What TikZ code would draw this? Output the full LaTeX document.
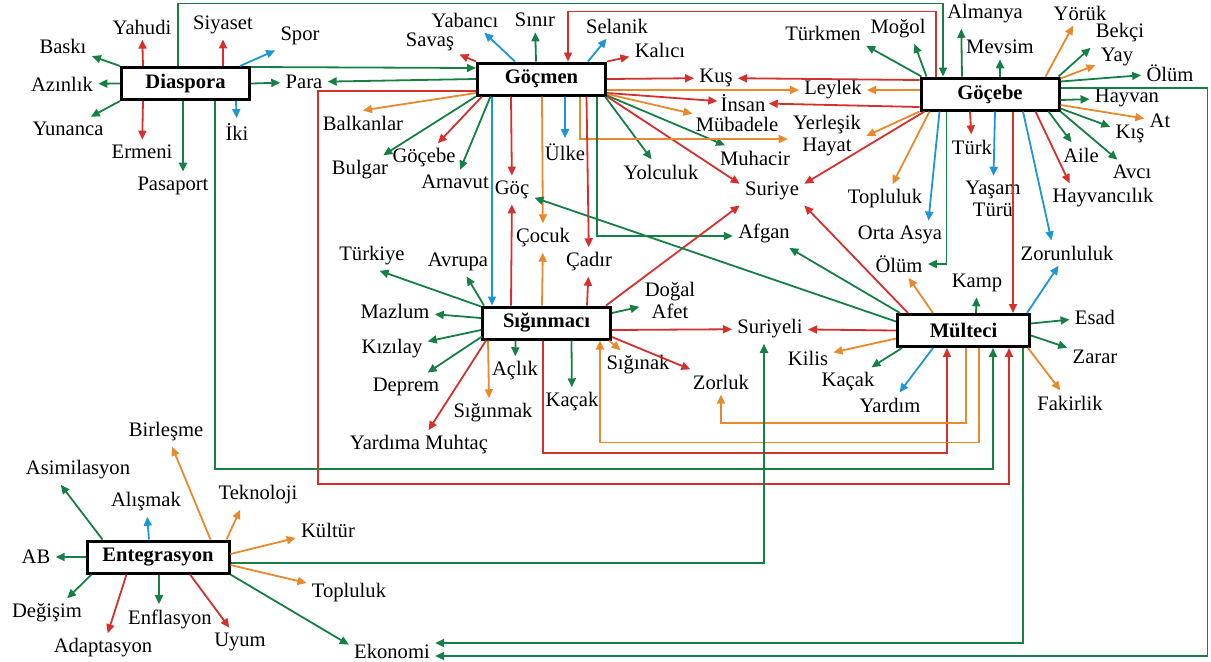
\documentclass[tikz,border=0pt]{standalone}
\usepackage{fontspec}
\setmainfont{Liberation Serif}
\usetikzlibrary{arrows.meta,calc}

\definecolor{yesil}{RGB}{22,128,68}
\definecolor{kirmizi}{RGB}{214,48,44}
\definecolor{turuncu}{RGB}{233,137,43}
\definecolor{mavi}{RGB}{28,150,214}

\begin{document}
\begin{tikzpicture}[x=0.5pt, y=-0.5pt, font=\fontsize{10.3}{11}\selectfont,
                    kutu/.style={draw=black, line width=1.5pt, fill=white, inner sep=1pt,
                                 minimum width=64pt, minimum height=16pt, font=\fontsize{10.3}{11}\selectfont\bfseries},
                    etiket/.style={inner sep=2.5pt, align=center},
                    ok/.style={line width=0.9pt, -{Triangle[length=4.5pt,width=4pt]}},
                    okY/.style={ok, yesil},
                    okK/.style={ok, kirmizi},
                    okT/.style={ok, turuncu},
                    okM/.style={ok, mavi}]
  \useasboundingbox (0,0) rectangle (1211,661);
  % main concepts
  \node[kutu] (diaspora) at (185.5,83.5) {Diaspora};
  \node[kutu] (gocmen) at (541.5,79) {Göçmen};
  \node[kutu, minimum width=69pt] (gocebe) at (990,94) {Göçebe};
  \node[kutu] (siginmaci) at (546.5,323) {Sığınmacı};
  \node[kutu, minimum width=66pt] (multeci) at (963.5,330.5) {Mülteci};
  \node[kutu, minimum width=71pt] (entegrasyon) at (158,557) {Entegrasyon};
  % words
  \node[etiket] (yahudi) at (142,27) {Yahudi};
  \node[etiket] (siyaset) at (223,25) {Siyaset};
  \node[etiket] (spor) at (300,36) {Spor};
  \node[etiket] (baski) at (63,46) {Baskı};
  \node[etiket] (azinlik) at (62,84) {Azınlık};
  \node[etiket] (yunanca) at (68,129) {Yunanca};
  \node[etiket] (ermeni) at (142,152) {Ermeni};
  \node[etiket] (pasaport) at (173,186) {Pasaport};
  \node[etiket] (iki) at (237,132) {İki};
  \node[etiket] (para) at (304,82) {Para};
  \node[etiket] (savas) at (430,42) {Savaş};
  \node[etiket] (yabanci) at (465,20) {Yabancı};
  \node[etiket] (sinir) at (535,20) {Sınır};
  \node[etiket] (selanik) at (617,26) {Selanik};
  \node[etiket] (kalici) at (660,50) {Kalıcı};
  \node[etiket] (kus) at (716,78) {Kuş};
  \node[etiket] (leylek) at (833,90) {Leylek};
  \node[etiket, inner sep=1.5pt] (insan) at (743,103) {İnsan};
  \node[etiket, inner sep=1.5pt] (mubadele) at (737,124) {Mübadele};
  \node[etiket] (yerlesik) at (827,136) {Yerleşik\\Hayat};
  \node[etiket] (muhacir) at (755,158) {Muhacir};
  \node[etiket] (yolculuk) at (661,172) {Yolculuk};
  \node[etiket] (suriye) at (772,191) {Suriye};
  \node[etiket] (ulke) at (565,152) {Ülke};
  \node[etiket] (goc) at (512,190) {Göç};
  \node[etiket] (cocuk) at (543,238) {Çocuk};
  \node[etiket] (cadir) at (589,262) {Çadır};
  \node[etiket] (afgan) at (764,233) {Afgan};
  \node[etiket] (balkanlar) at (363,123) {Balkanlar};
  \node[etiket] (bulgar) at (360,170) {Bulgar};
  \node[etiket] (gocebe2) at (424,158) {Göçebe};
  \node[etiket] (arnavut) at (455,182) {Arnavut};
  \node[etiket] (turkmen) at (823,33) {Türkmen};
  \node[etiket] (mogol) at (898,29) {Moğol};
  \node[etiket] (almanya) at (985,14) {Almanya};
  \node[etiket] (mevsim) at (1000,47) {Mevsim};
  \node[etiket] (yoruk) at (1080,13) {Yörük};
  \node[etiket] (bekci) at (1120,33) {Bekçi};
  \node[etiket] (yay) at (1117,57) {Yay};
  \node[etiket] (olum1) at (1170,73) {Ölüm};
  \node[etiket] (hayvan) at (1127,98) {Hayvan};
  \node[etiket] (ati) at (1160,121) {At};
  \node[etiket] (kis) at (1130,134) {Kış};
  \node[etiket] (aile) at (1081,155) {Aile};
  \node[etiket] (avci) at (1132,172) {Avcı};
  \node[etiket] (hayvancilik) at (1103,198) {Hayvancılık};
  \node[etiket] (turk) at (972,147) {Türk};
  \node[etiket] (yasam) at (993,199) {Yaşam\\Türü};
  \node[etiket] (toplulukA) at (885,199) {Topluluk};
  \node[etiket] (ortaasya) at (900,235) {Orta Asya};
  \node[etiket] (olum2) at (899,264) {Ölüm};
  \node[etiket] (zorunluluk) at (1067,253) {Zorunluluk};
  \node[etiket] (avrupa) at (458,262) {Avrupa};
  \node[etiket] (turkiye) at (372,256) {Türkiye};
  \node[etiket] (mazlum) at (395,311) {Mazlum};
  \node[etiket] (kizilay) at (392,349) {Kızılay};
  \node[etiket] (deprem) at (406,387) {Deprem};
  \node[etiket] (yardima) at (419,445) {Yardıma Muhtaç};
  \node[etiket] (siginmak) at (493,413) {Sığınmak};
  \node[etiket] (aclik) at (515,371) {Açlık};
  \node[etiket] (kacakA) at (572,402) {Kaçak};
  \node[etiket] (siginak) at (638,365) {Sığınak};
  \node[etiket] (zorluk) at (721,382) {Zorluk};
  \node[etiket] (suriyeli) at (770,329) {Suriyeli};
  \node[etiket] (dogal) at (670,300) {Doğal\\Afet};
  \node[etiket] (kamp) at (977,283) {Kamp};
  \node[etiket] (esad) at (1095,317) {Esad};
  \node[etiket] (zarar) at (1095,357) {Zarar};
  \node[etiket] (fakirlik) at (1070,403) {Fakirlik};
  \node[etiket] (yardim) at (890,405) {Yardım};
  \node[etiket] (kacakB) at (848,382) {Kaçak};
  \node[etiket] (kilis) at (808,358) {Kilis};
  \node[etiket] (birlesme) at (166,432) {Birleşme};
  \node[etiket] (asimilasyon) at (78,470) {Asimilasyon};
  \node[etiket] (alismak) at (146,502) {Alışmak};
  \node[etiket] (teknoloji) at (258,495) {Teknoloji};
  \node[etiket] (kultur) at (328,530) {Kültür};
  \node[etiket] (toplulukB) at (349,593) {Topluluk};
  \node[etiket] (ekonomi) at (392,651) {Ekonomi};
  \node[etiket] (uyum) at (240,642) {Uyum};
  \node[etiket] (enflasyon) at (170,619) {Enflasyon};
  \node[etiket] (adaptasyon) at (103,648) {Adaptasyon};
  \node[etiket] (degisim) at (47,613) {Değişim};
  \node[etiket] (ab) at (36,557) {AB};
  % Diaspora
  \draw[okK] ($(diaspora.north)+(-42.5,0)$) -- (yahudi);
  \draw[okK] ($(diaspora.north)+(37.5,0)$) -- (siyaset);
  \draw[okM] ($(diaspora.north)+(54.5,0)$) -- (spor.south west);
  \draw[okY] (diaspora.north west) -- (baski);
  \draw[okY] (diaspora.west) -- (azinlik);
  \draw[okY] (diaspora.south west) -- (yunanca);
  \draw[okK] ($(diaspora.south)+(-42.5,0)$) -- (ermeni);
  \draw[okY] ($(diaspora.south)+(-2.5,0)$) -- ($(pasaport.north)+(10,0)$);
  \draw[okM] ($(diaspora.south)+(50.5,0)$) -- (iki);
  \draw[okY] (diaspora.east) -- (para);
  \draw[okY] ($(diaspora.north east)+(0,1)$) -- ($(gocmen.west)+(0,-11)$);
  \draw[okY] ($(diaspora.north)+(-7.5,0)$) |- ($(gocebe.north)+(-47,-73)$) -- ($(gocebe.north)+(-47,0)$);
  \draw[okY] ($(diaspora.south)+(29.5,0)$) |- ($(multeci.south)+(29.5,121)$) -- ($(multeci.south)+(29.5,0)$);
  % Göçmen
  \draw[okY] (gocmen.west) -- (para);
  \draw[okK] (gocmen.north west) -- (savas);
  \draw[okM] ($(gocmen.north)+(-26.5,0)$) -- ($(yabanci.south)!0.5!(yabanci.south east)$);
  \draw[okY] ($(gocmen.north)+(-5.5,0)$) -- (sinir);
  \draw[okM] ($(gocmen.north)+(46.5,0)$) -- (selanik);
  \draw[okK] (gocmen.north east) -- (kalici);
  \draw[okK] (gocmen.east) -- (kus);
  \draw[okT] ($(gocmen.east)+(0,11)$) -- (leylek);
  \draw[okK] ($(gocmen.east)+(0,14)$) -- (insan);
  \draw[okT] ($(gocmen.east)+(0,15)$) -- (mubadele);
  \draw[okY] ($(gocmen.south east)+(0,-1)$) -- (muhacir);
  \draw[okY] ($(gocmen.south east)+(-2,0)$) -- (yolculuk);
  \draw[okK] (gocmen.south east) -- ($(suriye.west)!0.5!(suriye.north west)$);
  \draw[okT] ($(gocmen.south)+(38.5,0)$) |- ($(yerlesik.west)+(0,3)$);
  \draw[okM] ($(gocmen.south)+(23.5,0)$) -- (ulke);
  \draw[okK] ($(gocmen.south)+(-30.5,0)$) -- (goc);
  \draw[okT] ($(gocmen.south)+(0.5,0)$) -- (cocuk);
  \draw[okK] ($(gocmen.south)+(45,0)$) -- (cadir);
  \draw[okY] ($(gocmen.south)+(55.5,0)$) |- ($(afgan.west)+(0,3)$);
  \draw[okM] ($(gocmen.south)+(-49.5,0)$) -- ($(siginmaci.north)+(-54.5,0)$);
  \draw[okT] ($(gocmen.west)+(0,14)$) -- (balkanlar.north);
  \draw[okY] (gocmen.south west) -- (bulgar);
  \draw[okK] ($(gocmen.south west)+(6,0)$) -- (gocebe2);
  \draw[okY] ($(gocmen.south west)+(14.5,0)$) -- (arnavut);
  \draw[okK] ($(gocmen.west)+(0,12)$) -| ($(multeci.south)+(-645.5,136)$) -| ($(multeci.south)+(45.5,0)$);
  % Göçebe
  \draw[okK] ($(gocebe.north)+(-54,0)$) |- ($(gocmen.north)+(26.5,-50)$) -- ($(gocmen.north)+(26.5,0)$);
  \draw[okK] ($(gocebe.west)+(0,-14)$) -- (kus);
  \draw[okT] ($(gocebe.west)+(0,-4)$) -- (leylek);
  \draw[okK] ($(gocebe.west)+(0,13)$) -- (insan);
  \draw[okT] (gocebe.south west) -- (yerlesik.east);
  \draw[okK] ($(gocebe.south west)+(5,0)$) -- ($(suriye.east)!0.5!(suriye.north east)$);
  \draw[okT] ($(gocebe.south west)+(10,0)$) -- (toplulukA);
  \draw[okM] ($(gocebe.south west)+(20,0)$) -- ($(ortaasya.north)!0.6!(ortaasya.north east)$);
  \draw[okY] ($(gocebe.south west)+(27,0)$) |- (olum2.east);
  \draw[okK] ($(gocebe.south)+(-20,0)$) -- (turk);
  \draw[okM] ($(gocebe.south)+(5,0)$) -- (yasam);
  \draw[okK] ($(gocebe.south)+(23,0)$) -- ($(multeci.north)+(49.5,0)$);
  \draw[okM] ($(gocebe.south)+(33,0)$) -- ($(zorunluluk.north)!0.3!(zorunluluk.north west)$);
  \draw[okK] ($(gocebe.south east)+(-25,0)$) -- ($(hayvancilik.north west)!0.4!(hayvancilik.north)$);
  \draw[okY] ($(gocebe.south east)+(-12,0)$) -- (aile);
  \draw[okY] (gocebe.south east) -- (avci);
  \draw[okY] ($(gocebe.south east)+(0,-3)$) -- (kis);
  \draw[okT] ($(gocebe.east)+(0,11)$) -- (ati);
  \draw[okY] ($(gocebe.east)+(0,6)$) -- (hayvan);
  \draw[okY] ($(gocebe.east)+(0,-6)$) -- ++(147,0) |- ($(ekonomi.east)+(0,5)$);
  \draw[okY] ($(gocebe.north east)+(0,5)$) -- (olum1);
  \draw[okT] ($(gocebe.north east)+(0,2)$) -- (yay);
  \draw[okY] ($(gocebe.north east)+(-2,0)$) -- (bekci.south west);
  \draw[okT] ($(gocebe.north east)+(-15,0)$) -- (yoruk);
  \draw[okY] ($(gocebe.north)+(10,0)$) -- (mevsim);
  \draw[okY] ($(gocebe.north)+(-28,0)$) -- ($(almanya.south)!0.55!(almanya.south west)$);
  \draw[okY] ($(gocebe.north west)+(7,0)$) -- ($(mogol.south)!0.5!(mogol.south east)$);
  \draw[okY] ($(gocebe.north west)+(2,0)$) -- (turkmen.south east);
  % Sığınmacı
  \draw[okY] ($(siginmaci.north west)+(3,0)$) -- (avrupa);
  \draw[okY] ($(siginmaci.north west)+(0,1)$) -- ($(turkiye.south)!0.2!(turkiye.south east)$);
  \draw[okY] ($(siginmaci.west)+(0,-5)$) -- (mazlum);
  \draw[okY] ($(siginmaci.west)+(0,7)$) -- (kizilay);
  \draw[okY] ($(siginmaci.south west)+(1,-4)$) -- (deprem);
  \draw[okK] ($(siginmaci.south west)+(5,0)$) -- (yardima);
  \draw[okT] ($(siginmaci.south west)+(7,0)$) -- ($(siginmak.north)+(-4,0)$);
  \draw[okY] ($(siginmaci.south)+(-31,0)$) -- (aclik);
  \draw[okY] ($(siginmaci.south)+(25,0)$) -- (kacakA);
  \draw[okT] ($(siginmaci.south east)+(-3,0)$) -- (siginak);
  \draw[okK] ($(siginmaci.east)+(0,14)$) -- (zorluk);
  \draw[okK] ($(siginmaci.east)+(0,7)$) -- (suriyeli);
  \draw[okY] ($(siginmaci.east)+(0,-10)$) -- (dogal);
  \draw[okK] ($(siginmaci.north east)+(-6,0)$) -- (suriye.south west);
  \draw[okK] ($(siginmaci.north)+(-35.5,0)$) -- (goc);
  \draw[okT] ($(siginmaci.north)+(-4.5,0)$) -- (cocuk);
  \draw[okK] ($(siginmaci.north)+(40.5,0)$) -- (cadir);
  \draw[okK] ($(siginmaci.south)+(-3.5,0)$) |- ($(multeci.south)+(-16.5,105)$) -- ($(multeci.south)+(-16.5,0)$);
  % Mülteci
  \draw[okT] ($(multeci.south)+(15.5,0)$) |- ($(siginmaci.south)+(53.5,102)$) -- ($(siginmaci.south)+(53.5,0)$);
  \draw[okT] ($(multeci.south)+(2.5,0)$) |- ($(zorluk.south)+(0,28)$) -- (zorluk.south);
  \draw[okY] ($(multeci.south)+(59.5,0)$) |- ($(ekonomi.east)+(0,-8)$);
  \draw[okY] ($(multeci.north)+(12.5,0)$) -- (kamp);
  \draw[okT] ($(multeci.north)+(-30.5,0)$) -- (olum2);
  \draw[okY] ($(multeci.north west)+(4,0)$) -- (afgan);
  \draw[okY] ($(multeci.west)+(0,-9)$) -- (goc);
  \draw[okK] ($(multeci.north west)+(12,0)$) -- (suriye.south east);
  \draw[okM] ($(multeci.north east)+(-4,0)$) -- (zorunluluk);
  \draw[okY] ($(multeci.east)+(0,-7)$) -- (esad);
  \draw[okY] ($(multeci.east)+(0,5)$) -- (zarar);
  \draw[okT] ($(multeci.south east)+(-3,0)$) -- (fakirlik);
  \draw[okM] ($(multeci.south west)+(37,0)$) -- (yardim);
  \draw[okY] ($(multeci.south west)+(6,0)$) -- (kacakB);
  \draw[okT] ($(multeci.west)+(0,8)$) -- (kilis);
  \draw[okK] (multeci.west) -- (suriyeli);
  % Entegrasyon
  \draw[okT] ($(entegrasyon.north east)+(-20,0)$) -- (birlesme);
  \draw[okY] ($(entegrasyon.north west)+(17,0)$) -- ($(asimilasyon.south)!0.3!(asimilasyon.south west)$);
  \draw[okM] ($(entegrasyon.north)+(-9,0)$) -- (alismak);
  \draw[okT] ($(entegrasyon.north east)+(-4,0)$) -- ($(teknoloji.south)!0.4!(teknoloji.south west)$);
  \draw[okT] ($(entegrasyon.east)+(0,-3)$) -- (kultur);
  \draw[okT] ($(entegrasyon.east)+(0,8)$) -- (toplulukB);
  \draw[okY] (entegrasyon.south east) -- ($(ekonomi.west)!0.5!(ekonomi.north west)$);
  \draw[okK] ($(entegrasyon.south)+(32,0)$) -- (uyum);
  \draw[okY] ($(entegrasyon.south)+(1,0)$) -- ($(enflasyon.north)+(-11,0)$);
  \draw[okK] ($(entegrasyon.south west)+(41,0)$) -- (adaptasyon);
  \draw[okY] ($(entegrasyon.south west)+(6,0)$) -- ($(degisim.north)!0.5!(degisim.north east)$);
  \draw[okY] (entegrasyon.west) -- (ab);
  \draw[okY] ($(entegrasyon.east)+(0,6)$) -| ($(suriyeli.south)+(-6,0)$);
\end{tikzpicture}
\end{document}
